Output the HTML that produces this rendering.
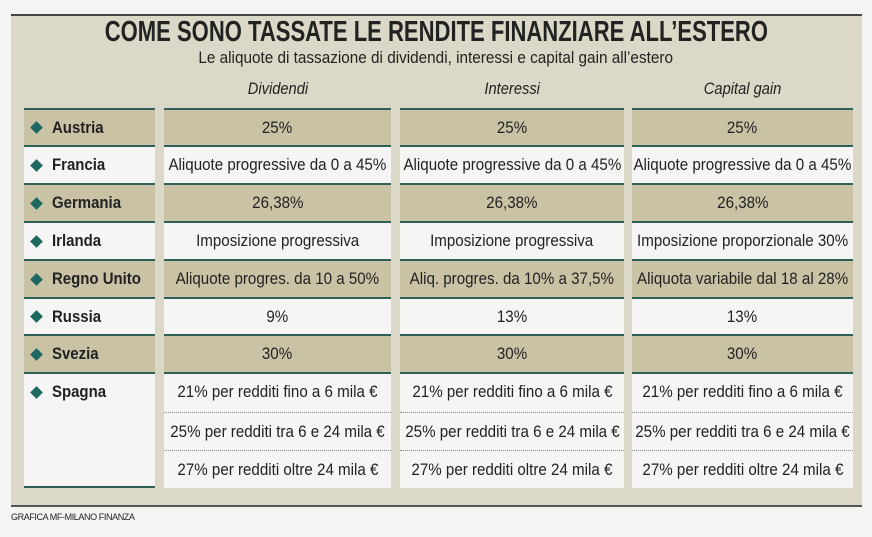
<!DOCTYPE html>
<html><head><meta charset="utf-8"><style>
*{margin:0;padding:0;box-sizing:border-box}
body{width:872px;height:537px;background:#f4f4f3;position:relative;overflow:hidden;font-family:"Liberation Sans",sans-serif;color:#222}
.panel{position:absolute;left:11px;top:14px;width:851px;height:493px;background:#dcd8c7;border-top:2px solid #444;border-bottom:2px solid #555}
.t{position:absolute;left:0;width:872px;text-align:center;white-space:nowrap}
.t span,.c span,.d span,.hd span{display:inline-block;transform:scaleX(0.89)}
.c{position:absolute;height:38px;display:flex;align-items:center;justify-content:center;font-size:17px;white-space:nowrap;border-top:2.5px solid #2f5f57}
.sh{background:#c9c2a5}
.wh{background:#f5f5f3}
.n{justify-content:flex-start;padding-left:8px;font-weight:bold}
.n:before{content:"";display:inline-block;width:9px;height:9px;background:#1d6860;transform:rotate(45deg);margin-right:11px;flex:none}
.n span{transform-origin:left center;transform:scaleX(0.88)}
.d{position:absolute;height:38px;display:flex;align-items:center;justify-content:center;font-size:17px;white-space:nowrap;background:#f5f5f3}
.dot{border-top:1.5px dotted #888}
.hd{position:absolute;top:80px;font-style:italic;font-size:16.5px;text-align:center}
</style></head><body>
<div class="panel"></div>
<div class="t" style="top:16px;font-weight:bold;font-size:29px"><span style="transform:scaleX(0.76)">COME SONO TASSATE LE RENDITE FINANZIARE ALL’ESTERO</span></div>
<div class="t" style="top:48px;font-size:17px"><span style="transform:scaleX(0.9)">Le aliquote di tassazione di dividendi, interessi e capital gain all’estero</span></div>
<div class="hd" style="left:164px;width:227px"><span>Dividendi</span></div>
<div class="hd" style="left:400px;width:224px"><span>Interessi</span></div>
<div class="hd" style="left:632px;width:221px"><span>Capital gain</span></div>
<div id="g"></div>
<div style="position:absolute;left:11px;top:512px;font-size:9px;letter-spacing:-0.4px">GRAFICA MF-MILANO FINANZA</div>
<script>
var cols=[[24,131],[164,227],[400,224],[632,221]];
var tops=[108,145,183,221,259,297,334];
var rows=[
["Austria","25%","25%","25%",1],
["Francia","Aliquote progressive da 0 a 45%","Aliquote progressive da 0 a 45%","Aliquote progressive da 0 a 45%",0],
["Germania","26,38%","26,38%","26,38%",1],
["Irlanda","Imposizione progressiva","Imposizione progressiva","Imposizione proporzionale 30%",0],
["Regno Unito","Aliquote progres. da 10 a 50%","Aliq. progres. da 10% a 37,5%","Aliquota variabile dal 18 al 28%",1],
["Russia","9%","13%","13%",0],
["Svezia","30%","30%","30%",1]];
var h="";
rows.forEach(function(r,i){
 for(var j=0;j<4;j++){
  var cl="c "+(r[4]?"sh":"wh")+(j==0?" n":"");
  h+='<div class="'+cl+'" style="left:'+cols[j][0]+'px;width:'+cols[j][1]+'px;top:'+tops[i]+'px;height:'+((i<6?tops[i+1]:372)-tops[i])+'px"><span>'+r[j]+'</span></div>';
 }
});
var sp=["21% per redditi fino a 6 mila €","25% per redditi tra 6 e 24 mila €","27% per redditi oltre 24 mila €"];
for(var j=0;j<4;j++){
 h+='<div class="c wh" style="left:'+cols[j][0]+'px;width:'+cols[j][1]+'px;top:372px;height:116px;border-bottom:2.5px solid #2f5f57"></div>';
 if(j==0){h+='<div class="c n" style="left:24px;width:131px;top:372px;height:38px;border-top-color:transparent"><span>Spagna</span></div>';}
 if(j>0){for(var k=0;k<3;k++){
  h+='<div class="d'+(k>0?' dot':'')+'" style="left:'+cols[j][0]+'px;width:'+cols[j][1]+'px;top:'+(374+k*38)+'px;height:'+(k==0?36:38)+'px"><span>'+sp[k]+'</span></div>';
 }}
}
document.getElementById("g").innerHTML=h;
</script>
</body></html>
